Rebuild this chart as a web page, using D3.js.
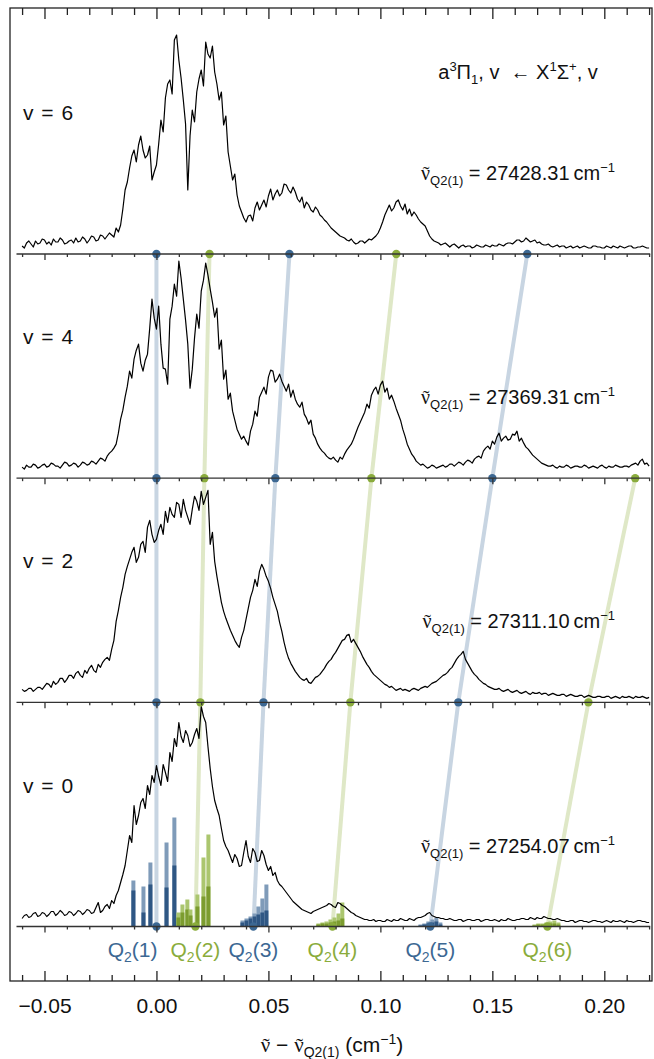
<!DOCTYPE html>
<html><head><meta charset="utf-8">
<script src="https://cdn.jsdelivr.net/npm/d3@7"></script>
<style>body{margin:0;background:#fff}svg{display:block}</style>
</head><body>
<svg id="c" width="654" height="1059"></svg>
<script>
// ---------- data ----------
const levels = [0, 2, 4, 6];
const origins = ["27254.07", "27311.10", "27369.31", "27428.31"];
const specStart = -0.060, specStep = 0.001;   // sampled offset axis (cm^-1)
const spec0 = [
 8,11,12,9,10,13,14,10,11,14,13,10,12,15,15,11,13,16,14,11,
 12,15,14,11,13,16,15,12,14,17,16,13,14,19,24,14,16,20,22,18,
 26,23,31,36,44,52,61,76,91,84,121,102,111,124,128,118,141,132,151,144,
 161,150,141,162,154,145,174,165,188,180,204,190,184,196,191,180,184,192,198,188,
 220,210,204,180,158,140,126,118,111,98,86,80,76,70,64,72,68,60,61,74,
 86,70,64,78,74,65,66,76,71,62,56,60,51,54,46,42,40,37,34,31,
 28,25,23,21,19,17,16,15,14,13,15,16,17,18,19,20,21,23,22,20,
 19,24,23,21,20,18,16,14,13,11,10,9,8,7,7,6,6,7,5,6,
 6,5,5,7,6,5,7,6,6,8,7,6,6,8,7,6,8,9,9,10,
 11,13,14,11,10,9,9,8,8,7,7,8,7,6,6,7,7,5,6,7,
 7,6,6,7,7,5,6,7,7,6,6,7,6,5,7,6,6,8,7,6,
 6,7,7,8,8,7,7,9,8,7,9,8,8,10,9,8,8,7,7,8,
 7,6,6,5,5,6,6,4,5,6,6,5,5,4,5,6,6,5,5,4,
 5,6,5,4,6,5,5,6,5,4,6,5,5,4,5,6,6,5,5,4,
 4];
const spec2 = [
 13,11,12,14,14,11,13,15,15,13,16,19,18,15,21,18,20,24,24,20,
 23,27,27,24,29,31,27,25,32,29,34,37,32,30,38,35,40,43,45,42,
 53,62,81,92,105,115,128,136,143,150,155,140,145,158,161,150,175,182,168,160,
 163,172,178,168,191,180,195,188,185,200,198,185,203,192,185,178,193,206,201,192,
 211,198,205,212,158,170,141,126,113,100,91,84,78,72,67,62,58,55,65,72,
 83,94,105,112,123,116,131,138,133,126,121,114,105,98,91,80,71,60,51,44,
 39,35,31,28,25,23,22,24,20,19,22,25,26,28,31,34,38,41,43,47,
 50,54,58,62,63,67,68,60,63,59,55,51,46,42,38,35,31,28,26,24,
 22,20,18,17,15,16,14,12,13,14,12,13,12,11,13,14,13,12,14,15,
 16,15,17,19,20,21,23,25,27,28,30,33,35,39,43,46,48,51,43,39,
 35,31,28,26,23,21,19,18,16,15,14,13,13,14,12,11,12,13,11,10,
 11,12,10,9,10,11,9,8,10,9,9,10,8,9,9,7,8,9,8,7,
 7,8,8,6,7,8,7,6,6,7,7,5,6,7,6,5,5,6,6,5,
 5,6,6,4,5,6,5,4,6,5,5,6,5,4,6,5,5,6,5,4,
 5];
const spec4 = [
 11,9,13,11,11,14,13,10,11,13,14,11,12,15,14,12,12,10,13,16,
 15,12,13,15,14,11,13,16,15,13,14,17,16,14,17,20,19,17,22,25,
 27,30,34,45,59,68,81,92,107,100,119,128,134,115,107,118,124,150,179,160,
 149,172,134,110,109,94,159,172,194,182,217,200,179,158,134,90,109,140,164,150,
 187,198,215,203,189,176,161,170,129,138,99,108,79,85,67,58,49,44,39,42,
 37,33,47,54,67,62,81,86,91,84,101,108,107,96,99,104,97,92,87,94,
 81,88,79,74,71,76,64,60,54,58,44,40,34,30,27,25,22,20,19,21,
 18,16,21,19,24,28,31,34,39,45,51,56,61,66,74,70,83,88,91,84,
 93,97,86,90,79,83,77,70,64,58,49,42,34,29,24,21,17,15,13,14,
 12,10,11,13,12,10,11,12,13,11,12,14,14,12,14,16,15,13,16,18,
 17,15,19,21,22,20,27,30,32,29,37,34,41,45,37,40,42,38,39,44,
 43,47,37,40,35,31,29,26,23,21,19,17,15,14,13,12,12,13,11,10,
 12,11,11,13,12,10,11,12,12,11,11,13,12,10,11,12,11,10,12,13,
 11,10,12,11,11,13,12,11,11,12,12,11,13,14,15,13,17,19,14,15,
 12];
const spec6 = [
 8,6,11,13,10,7,13,10,11,15,14,10,12,9,15,12,12,16,14,10,
 11,13,14,11,16,12,13,17,15,11,14,18,17,13,14,19,18,15,18,21,
 19,17,26,22,29,45,64,72,86,98,104,92,109,118,104,96,99,108,74,82,
 89,110,134,122,156,170,174,160,214,219,194,176,154,130,64,118,144,132,162,175,
 184,168,212,200,196,208,182,170,154,162,129,138,102,88,74,80,59,48,42,36,
 32,38,39,33,46,52,44,49,54,47,58,65,54,60,64,58,61,70,69,64,
 61,67,62,55,52,57,46,52,49,44,42,47,44,39,37,34,32,29,26,24,
 22,20,18,17,16,14,13,15,12,10,11,13,13,11,13,15,14,16,18,21,
 26,32,39,44,49,43,46,52,54,48,44,50,40,45,38,42,39,35,32,30,
 28,23,18,15,13,12,11,9,10,11,9,7,9,10,8,6,8,9,7,8,
 8,6,7,9,8,7,7,9,8,7,9,8,8,10,9,8,10,11,11,10,
 12,14,14,12,13,16,14,12,13,14,11,12,10,9,9,10,8,7,8,9,
 7,8,8,6,7,8,6,7,8,6,7,8,7,6,6,8,8,7,7,6,
 6,8,7,6,8,7,6,8,7,6,7,8,8,6,6,7,7,8,7,6,
 6];
const spectra = [spec0, spec2, spec4, spec6];

// Q2(J) line positions (offset from Q2(1), cm^-1) for v = 0, 2, 4, 6
const qLabels = ["1", "2", "3", "4", "5", "6"];
const qPos0 = [0, 0.0174, 0.0433, 0.0786, 0.1223, 0.1746];
const qPos2 = [0, 0.0196, 0.0478, 0.0866, 0.1348, 0.1929];
const qPos4 = [0, 0.0214, 0.0531, 0.0960, 0.1500, 0.2138];
const qPos6 = [0, 0.0237, 0.0594, 0.1071, 0.1656];
const qPos = [qPos0, qPos2, qPos4, qPos6];

// simulated stick spectrum (v = 0): position, full intensity, partial intensity, Q2(J) branch
const stickPos  = [-0.0103,-0.0058,-0.0027,0.0045,0.0080,
  0.0098,0.0116,0.0138,0.0152,0.0183,0.0210,0.0232,
  0.0384,0.0402,0.0420,0.0438,0.0455,0.0473,0.0491,
  0.0723,0.0741,0.0759,0.0777,0.0795,0.0813,0.0830,
  0.1179,0.1196,0.1214,0.1232,0.1250,0.1268,
  0.1688,0.1705,0.1723,0.1741,0.1759,0.1777,0.1795];
const stickFull = [46,40,64,84,109, 14,22,27,17,32,69,92, 6,8,10,13,20,28,42, 3,4,5,7,9,13,24, 2,3,5,7,9,4, 2,3,3,4,5,6,4];
const stickPart = [36,14,42,39,61, 9,14,17,11,20,30,40, 4,6,8,10,12,14,16, 2,3,3,4,5,6,8, 1,2,3,4,5,2, 1,2,2,2,3,3,2];
const stickLine = [1,1,1,1,1, 2,2,2,2,2,2,2, 3,3,3,3,3,3,3, 4,4,4,4,4,4,4, 5,5,5,5,5,5, 6,6,6,6,6,6,6];

const majorTicks = [-0.05, 0, 0.05, 0.10, 0.15, 0.20];
const minorTicks = [-0.06,-0.04,-0.03,-0.02,-0.01,0.01,0.02,0.03,0.04,0.06,0.07,0.08,0.09,
  0.11,0.12,0.13,0.14,0.16,0.17,0.18,0.19,0.21,0.22];

// ---------- drawing ----------
const FONT = "'Liberation Sans', Arial, sans-serif";
const SERIF = "'Liberation Serif', 'DejaVu Serif', serif";
const blue = "#3c6893", green = "#8aac3c";
const blueLine = "#c8d5e2", greenLine = "#dfe8c7";
const blueDark = "#2f5784", blueLight = "#7f9bb9", greenDark = "#7c9c2f", greenLight = "#abc66f";
const isBlue = j => j % 2 === 0;

const svg = d3.select("#c");
const F = {l: 10, r: 652, t: 8, b: 981};
const x = d3.scaleLinear().domain([-0.0654, 0.2213]).range([F.l, F.r]);
const base = d3.scaleLinear().domain([0, 6]).range([926.5, 254]);
const amp = d3.scaleLinear().domain([0, 220]).range([0, 220]);

svg.append("defs").append("clipPath").attr("id", "clip")
  .append("rect").attr("x", F.l).attr("y", F.t).attr("width", F.r - F.l).attr("height", F.b - F.t);
const plot = svg.append("g").attr("clip-path", "url(#clip)");

// connecting lines between panels
for (let p = 0; p < 3; p++) {
  qPos[p].forEach((q, j) => {
    if (qPos[p + 1][j] === undefined) return;
    plot.append("line")
      .attr("x1", x(q)).attr("y1", base(levels[p]))
      .attr("x2", x(qPos[p + 1][j])).attr("y2", base(levels[p + 1]))
      .attr("stroke", isBlue(j) ? blueLine : greenLine)
      .attr("stroke-width", 4);
  });
}

// stick spectrum
const sticks = plot.append("g");
stickPos.forEach((s, i) => {
  const b = isBlue(stickLine[i] - 1);
  const y0 = base(0);
  sticks.append("rect").attr("x", x(s) - 2).attr("width", 4)
    .attr("y", y0 - amp(stickFull[i])).attr("height", amp(stickFull[i]))
    .attr("fill", b ? blueLight : greenLight);
  sticks.append("rect").attr("x", x(s) - 2).attr("width", 4)
    .attr("y", y0 - amp(stickPart[i])).attr("height", amp(stickPart[i]))
    .attr("fill", b ? blueDark : greenDark);
});

// spectra
spectra.forEach((sp, p) => {
  const y0 = base(levels[p]);
  const line = d3.line()
    .x((d, i) => x(specStart + i * specStep))
    .y(d => y0 - amp(d));
  plot.append("path").datum(sp).attr("d", line)
    .attr("fill", "none").attr("stroke", "#000").attr("stroke-width", 1.2)
    .attr("stroke-linejoin", "round");
});

// panel baselines with ticks
levels.forEach(v => {
  const g = svg.append("g").attr("transform", `translate(0,${base(v)})`);
  g.append("line").attr("x1", x(-0.0625)).attr("x2", x(0.2205))
    .attr("stroke", "#333").attr("stroke-width", 1.3);
  g.append("g").call(d3.axisBottom(x).tickValues(majorTicks).tickSize(6).tickFormat(""))
    .call(a => a.select(".domain").remove());
  g.append("g").call(d3.axisBottom(x).tickValues(minorTicks).tickSize(3).tickFormat(""))
    .call(a => a.select(".domain").remove());
  g.selectAll(".tick line").attr("stroke", "#333").attr("stroke-width", 1.3);
});

// dots
for (let p = 0; p < 4; p++) {
  qPos[p].forEach((q, j) => {
    plot.append("circle").attr("cx", x(q)).attr("cy", base(levels[p])).attr("r", 4.2)
      .attr("fill", isBlue(j) ? blue : green);
  });
}

// frame
svg.append("rect").attr("x", F.l).attr("y", F.t).attr("width", F.r - F.l).attr("height", F.b - F.t)
  .attr("fill", "none").attr("stroke", "#222").attr("stroke-width", 1.3);
const topAx = svg.append("g").attr("transform", `translate(0,${F.t})`);
topAx.append("g").call(d3.axisBottom(x).tickValues(majorTicks).tickSize(11).tickFormat(""));
topAx.append("g").call(d3.axisBottom(x).tickValues(minorTicks).tickSize(7).tickFormat(""));
const botAx = svg.append("g").attr("transform", `translate(0,${F.b})`);
botAx.append("g").call(d3.axisTop(x).tickValues(majorTicks).tickSize(10).tickFormat(""));
botAx.append("g").call(d3.axisTop(x).tickValues(minorTicks).tickSize(6).tickFormat(""));
const lab = svg.append("g").attr("transform", `translate(0,${F.b})`)
  .call(d3.axisBottom(x).tickValues(majorTicks).tickSize(0).tickPadding(17).tickFormat(d3.format(".2f")));
[topAx, botAx, lab].forEach(g => { g.selectAll(".domain").remove(); g.selectAll(".tick line").attr("stroke", "#222").attr("stroke-width", 1.3); });
lab.selectAll("text").attr("font-family", FONT).attr("font-size", 21).attr("fill", "#111");

// rich text helper: parts = [text, kind, family]; "ν" gets a tilde drawn above it
function rich(x0, y0, parts, opt = {}) {
  const size = opt.size || 21, sub = Math.round(size * 0.66);
  const t = svg.append("text").attr("x", x0).attr("y", y0)
    .attr("font-family", FONT).attr("font-size", size).attr("fill", opt.fill || "#111")
    .attr("text-anchor", opt.anchor || "start");
  if (opt.wordSpacing) t.attr("word-spacing", opt.wordSpacing);
  let shift = 0, idx = 0;
  const nus = [];
  parts.forEach(([s, kind, fam]) => {
    const target = kind === "sub" ? 5 : kind === "sup" ? -8 : 0;
    const ts = t.append("tspan").text(s).attr("dy", target - shift);
    if (kind) ts.attr("font-size", sub);
    if (fam) ts.attr("font-family", fam);
    if (s === "ν") nus.push(idx);
    idx += s.length;
    shift = target;
  });
  nus.forEach(i => {
    const e = t.node().getExtentOfChar(i);
    svg.append("text").attr("x", e.x + e.width / 2 + 0.5).attr("y", y0 + 1)
      .attr("text-anchor", "middle").attr("font-family", SERIF).attr("font-size", size)
      .attr("fill", opt.fill || "#111").text("\u02DC");
  });
  return t;
}

// title
rich(518, 79, [["a"], ["3", "sup"], ["Π"], ["1", "sub"], [", v\u00a0\u00a0← X"], ["1", "sup"], ["Σ"], ["+", "sup"], [", v"]],
  {anchor: "middle", size: 20});

// panel labels and origins
levels.forEach((v, p) => {
  const b = base(v);
  rich(23, b - 134, [[`v = ${v}`]], {size: 21, wordSpacing: 2});
  rich(615, b - 74, [["ν", null, SERIF], ["Q2(1)", "sub"], [` = ${origins[p]}\u2009cm`], ["−1", "sup"]],
    {anchor: "end", size: 20});
});

// Q labels
qPos0.forEach((q, j) => {
  rich(j === 0 ? x(q) + 1 : x(q), 957, [["Q"], ["2", "sub"], [`(${qLabels[j]})`]],
    {anchor: j === 0 ? "end" : "middle", fill: isBlue(j) ? blue : green});
});

// axis title
rich(332, 1052, [["ν", null, SERIF], [" − "], ["ν", null, SERIF], ["Q2(1)", "sub"], [" (cm"], ["−1", "sup"], [")"]],
  {anchor: "middle"});
</script>
</body></html>
